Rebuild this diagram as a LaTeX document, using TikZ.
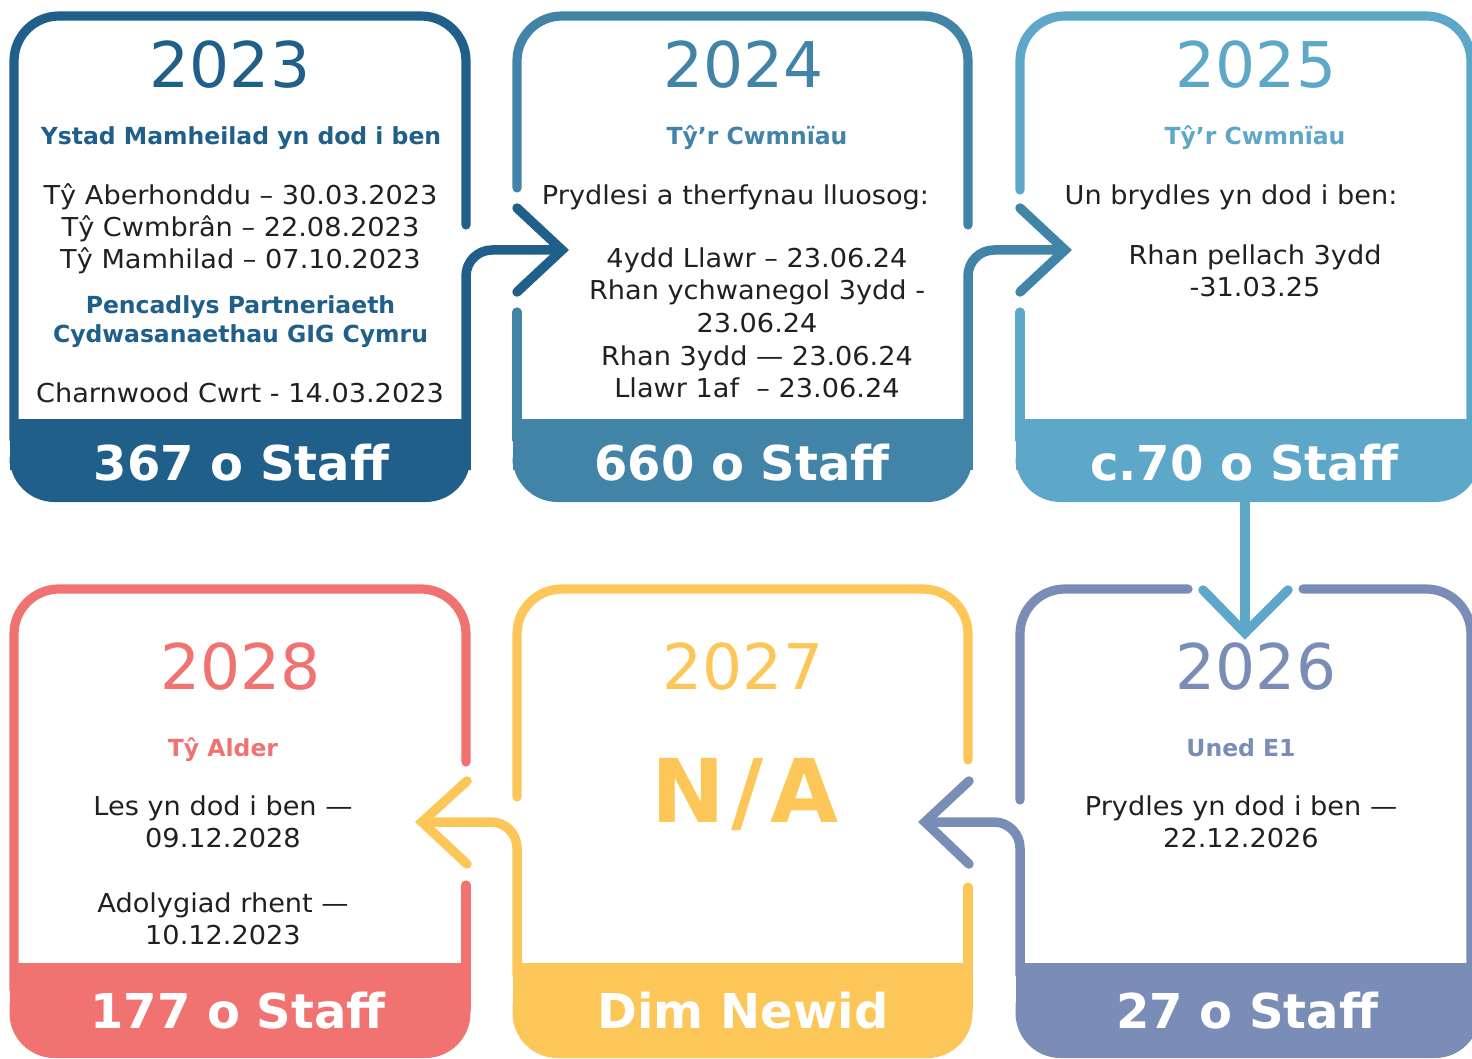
\documentclass[tikz,border=0pt]{standalone}
\usepackage{fontspec}
\setmainfont{DejaVu Sans}
\newfontfamily\cuerpo[FakeStretch=1.045]{DejaVu Sans}
\definecolor{c23}{RGB}{31,95,137}
\definecolor{c24}{RGB}{66,132,168}
\definecolor{c25}{RGB}{93,168,200}
\definecolor{c26}{RGB}{122,141,182}
\definecolor{c27}{RGB}{253,198,88}
\definecolor{c28}{RGB}{240,115,114}
\definecolor{tinta}{RGB}{35,31,32}
\tikzset{
  caja/.style={line width=9.2pt, line cap=round, rounded corners=45pt},
  flecha/.style={line width=9.5pt, line cap=round, rounded corners=26pt},
  punta/.style={line width=9.5pt, line cap=round, line join=miter},
  anio/.style={anchor=base, inner sep=0pt, font=\fontsize{63}{70}\selectfont},
  titulo/.style={anchor=base, inner sep=0pt, font=\bfseries\fontsize{23.5}{29}\selectfont},
  texto/.style={anchor=base, inner sep=0pt, text=tinta, font=\cuerpo\fontsize{26}{32}\selectfont},
  pie/.style={anchor=base, inner sep=0pt, text=white, font=\bfseries\fontsize{48}{56}\selectfont},
}

\begin{document}
\begin{tikzpicture}[x=1pt, y=-1pt]
\useasboundingbox (0,0) rectangle (1472,1059);

%Cajas
\draw[caja, c23] (14,440) -- (14,16) -- (466,16) -- (466,225);
\draw[caja, c24] (517,188) -- (517,16) -- (968,16) -- (968,225);
\draw[caja, c24] (517,312) -- (517,440);
\draw[caja, c25] (1020,190) -- (1020,16) -- (1471,16) -- (1471,440);
\draw[caja, c25] (1020,312) -- (1020,440);

\draw[caja, c26] (1188,589) -- (1020,589) -- (1020,800);
\draw[caja, c26] (1303,589) -- (1471,589) -- (1471,990);
\draw[caja, c27] (968,760) -- (968,589) -- (517,589) -- (517,797);
\draw[caja, c27] (968,887) -- (968,990);
\draw[caja, c28] (466,762) -- (466,589) -- (14,589) -- (14,990);
\draw[caja, c28] (466,885) -- (466,990);

%Pies
\fill[c23, rounded corners=45pt] (9.5,419) rectangle (470.5,502);
\fill[c23] (9.5,419) rectangle (470.5,470);
\fill[c24, rounded corners=45pt] (512.5,419) rectangle (972.5,502);
\fill[c24] (512.5,419) rectangle (972.5,470);
\fill[c25, rounded corners=45pt] (1015.5,419) rectangle (1480,502);
\fill[c25] (1015.5,419) rectangle (1480,470);

\fill[c28, rounded corners=45pt] (9.5,963) rectangle (470.5,1058);
\fill[c28] (9.5,963) rectangle (470.5,1010);
\fill[c27, rounded corners=45pt] (512.5,963) rectangle (972.5,1058);
\fill[c27] (512.5,963) rectangle (972.5,1010);
\fill[c26, rounded corners=45pt] (1015.5,963) rectangle (1480,1058);
\fill[c26] (1015.5,963) rectangle (1480,1010);

%Flechas
\coordinate (p1) at (562,250);
\coordinate (p2) at (1065,250);
\coordinate (p3) at (1245,633);
\coordinate (p4) at (925,822);
\coordinate (p5) at (422,822);

\draw[flecha, c23] (466,430) -- (466,250) -- (p1);
\draw[punta, c23] (517,208) -- (p1) -- (517,292);
\draw[flecha, c24] (968,430) -- (968,250) -- (p2);
\draw[punta, c24] (1020,208) -- (p2) -- (1020,292);
\draw[flecha, c25] (1245,495) -- (p3);
\draw[punta, c25] (1203,590) -- (p3) -- (1288,590);
\draw[flecha, c26] (1020,975) -- (1020,822) -- (p4);
\draw[punta, c26] (969,781) -- (p4) -- (969,864);
\draw[flecha, c27] (517,975) -- (517,822) -- (p5);
\draw[punta, c27] (467,781) -- (p5) -- (467,864);

%2023
\node[anio, c23] (y23) at (230,88) {2023};
\node[titulo, c23] (t23) at (241,145) {Ystad Mamheilad yn dod i ben};
\node[texto] (a23) at (240.5,205) {Tŷ Aberhonddu – 30.03.2023};
\node[texto] (b23) at (240.5,237) {Tŷ Cwmbrân – 22.08.2023};
\node[texto] (c23) at (240.5,269) {Tŷ Mamhilad – 07.10.2023};
\node[titulo, c23] (d23) at (240.5,313) {Pencadlys Partneriaeth};
\node[titulo, c23] (e23) at (240.5,342) {Cydwasanaethau GIG Cymru};
\node[texto] (f23) at (240,402) {Charnwood Cwrt - 14.03.2023};
\node[pie] (s23) at (241.5,480) {367 o Staff};

%2024
\node[anio, c24] (y24) at (743.5,88) {2024};
\node[titulo, c24] (t24) at (757,145) {Tŷ’r Cwmnïau};
\node[texto] (a24) at (735.5,205) {Prydlesi a therfynau lluosog:};
\node[texto] (b24) at (757,268) {4ydd Llawr – 23.06.24};
\node[texto] (c24) at (757,300) {Rhan ychwanegol 3ydd -};
\node[texto] (d24) at (757,332) {23.06.24};
\node[texto] (e24) at (757,365) {Rhan 3ydd — 23.06.24};
\node[texto] (f24) at (757,397) {Llawr 1af~ – 23.06.24};
\node[pie] (s24) at (742,480) {660 o Staff};

%2025
\node[anio, c25] (y25) at (1256,88) {2025};
\node[titulo, c25] (t25) at (1255,145) {Tŷ’r Cwmnïau};
\node[texto] (a25) at (1231,205) {Un brydles yn dod i ben:};
\node[texto] (b25) at (1255,265) {Rhan pellach 3ydd};
\node[texto] (c25) at (1255,297) {-31.03.25};
\node[pie] (s25) at (1244.5,480) {c.70 o Staff};

%2026
\node[anio, c26] (y26) at (1256,689) {2026};
\node[titulo, c26] (t26) at (1241,756) {Uned E1};
\node[texto] (a26) at (1241,815) {Prydles yn dod i ben —};
\node[texto] (b26) at (1241,847) {22.12.2026};
\node[pie] (s26) at (1247,1028) {27 o Staff};

%2027
\node[anio, c27] (y27) at (743,689) {2027};
\node[anchor=base, inner sep=0pt, c27, font=\bfseries\fontsize{88}{96}\selectfont] (n27) at (745,822) {N\kern7pt/\kern7pt A};
\node[pie] (s27) at (743,1028) {Dim Newid};

%2028
\node[anio, c28] (y28) at (240.5,689) {2028};
\node[titulo, c28] (t28) at (223,756) {Tŷ Alder};
\node[texto] (a28) at (223,815) {Les yn dod i ben —};
\node[texto] (b28) at (223,847) {09.12.2028};
\node[texto] (c28) at (223,912) {Adolygiad rhent —};
\node[texto] (d28) at (223,944) {10.12.2023};
\node[pie] (s28) at (238,1028) {177 o Staff};
\end{tikzpicture}
\end{document}
